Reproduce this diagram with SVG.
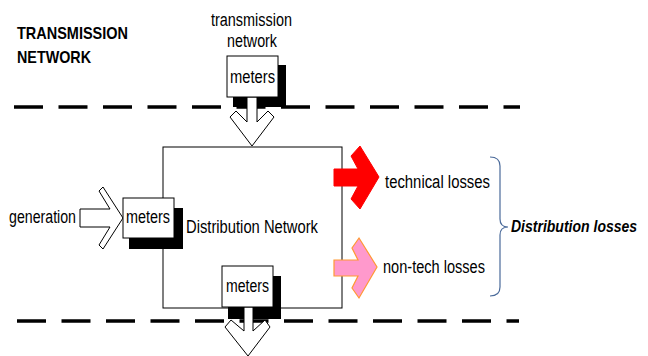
<svg xmlns="http://www.w3.org/2000/svg" width="648" height="356" viewBox="0 0 648 356">
<style>
.t{font-family:"Liberation Sans",Arial,sans-serif;font-size:18px;fill:#000}
.b{font-family:"Liberation Sans",Arial,sans-serif;font-size:17px;font-weight:bold;fill:#000}
.bi{font-family:"Liberation Sans",Arial,sans-serif;font-size:16.5px;font-weight:bold;font-style:italic;fill:#000}
.dash{stroke:#000;stroke-width:3.5;stroke-dasharray:29 15.5;fill:none}
.box{fill:#fff;stroke:#000;stroke-width:1}
.sh{fill:#000}
.arr{fill:#fff;stroke:#000;stroke-width:1;stroke-linejoin:miter}
</style>
<rect width="648" height="356" fill="#fff"/>
<g id="boundaries">
<line class="dash" x1="14" y1="107" x2="520" y2="107"/>
<line class="dash" x1="17" y1="321" x2="519" y2="321"/>
</g>
<g id="title">
<text class="b" x="17" y="39" textLength="111" lengthAdjust="spacingAndGlyphs">TRANSMISSION</text>
<text class="b" x="17" y="63" textLength="74" lengthAdjust="spacingAndGlyphs">NETWORK</text>
</g>
<g id="distribution-network">
<rect x="163" y="147" width="179" height="161" fill="none" stroke="#000" stroke-width="1"/>
<text class="t" x="186" y="233" textLength="132" lengthAdjust="spacingAndGlyphs">Distribution Network</text>
</g>
<g id="connectors">
<polygon class="arr" points="80,209 110,209 99,191 103,187 123,218 103,249 99,245 110,227 80,227"/>
<polygon points="334,169 358,169 351,156 360,146 379,177 360,209 351,199 358,186 334,186" fill="#ff0000" stroke="#ff0000" stroke-width="1"/>
<polygon points="334,260 358,260 352,248 359,238 377,267 359,298 352,288 358,276 334,276" fill="#ff99cc" stroke="#ff9933" stroke-width="1.2"/>
<path d="M490,157 Q500,157 500,166 L500,219 Q500,227 508,227 Q500,227 500,235 L500,287 Q500,296 490,296" fill="none" stroke="#4a6a9a" stroke-width="1.2"/>
</g>
<g id="transmission-meters">
<text class="t" x="211" y="26" textLength="81" lengthAdjust="spacingAndGlyphs">transmission</text>
<text class="t" x="227" y="47" textLength="50" lengthAdjust="spacingAndGlyphs">network</text>
<rect class="sh" x="233" y="65" width="53" height="42"/>
<polygon class="arr" points="247,97 257,97 257,122 268,111 274,117 252,146 230,117 236,111 247,122"/>
<rect class="box" x="227" y="56" width="51" height="41"/>
<text class="t" x="230" y="83" textLength="45" lengthAdjust="spacingAndGlyphs">meters</text>
</g>
<g id="generation-meters">
<text class="t" x="9" y="223" textLength="67" lengthAdjust="spacingAndGlyphs">generation</text>
<rect class="sh" x="129" y="208" width="54" height="41"/>
<rect class="box" x="123" y="198" width="51" height="40"/>
<text class="t" x="126" y="223" textLength="44" lengthAdjust="spacingAndGlyphs">meters</text>
</g>
<g id="output-meters">
<rect class="sh" x="228" y="276" width="53" height="43"/>
<polygon class="arr" points="244,307 253,307 253,331 265,320 270,327 248,356 225,327 231,320 244,331"/>
<rect class="box" x="222" y="266" width="51" height="41"/>
<text class="t" x="226" y="292" textLength="43" lengthAdjust="spacingAndGlyphs">meters</text>
</g>
<g id="losses">
<text class="t" x="385" y="188" textLength="105" lengthAdjust="spacingAndGlyphs">technical losses</text>
<text class="t" x="383" y="273" textLength="102" lengthAdjust="spacingAndGlyphs">non-tech losses</text>
<text class="bi" transform="translate(511,232) scale(0.85,1)" x="0" y="0">Distribution losses</text>
</g>
</svg>
